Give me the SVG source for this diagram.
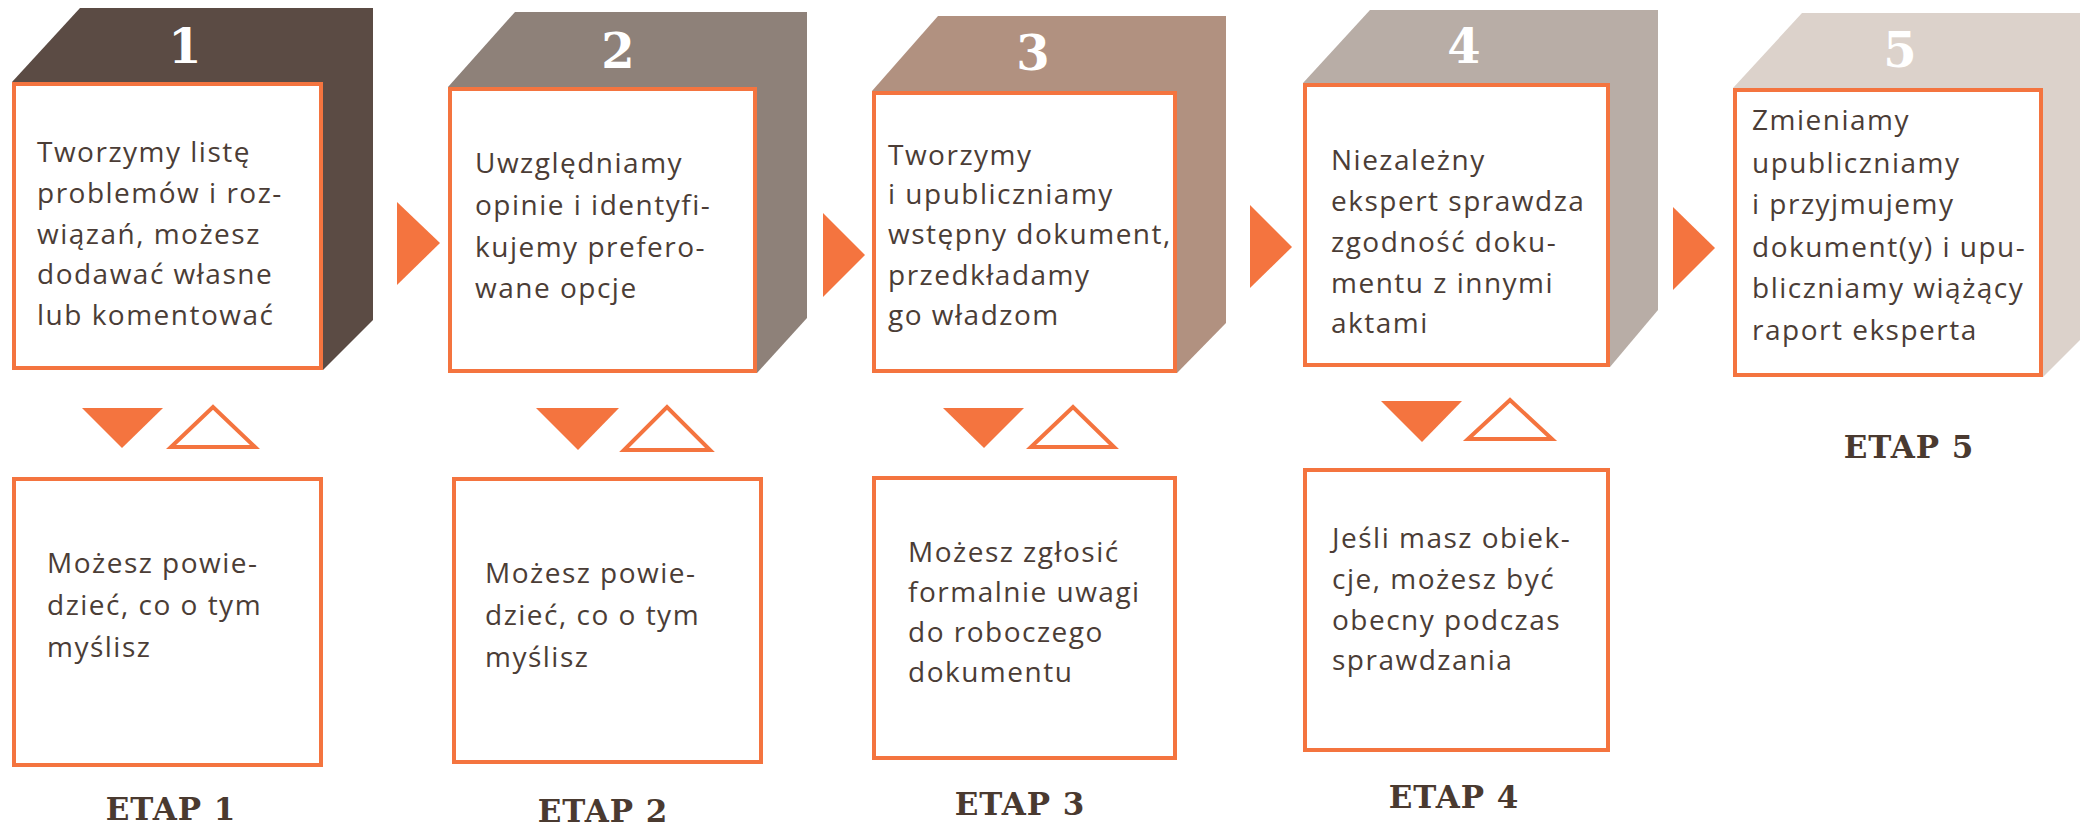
<svg xmlns="http://www.w3.org/2000/svg" width="2080" height="827" viewBox="0 0 2080 827">
<style>
.box{fill:#ffffff;stroke:#f4743f;stroke-width:4}
.t{font-family:"Open Sans","Noto Sans","Liberation Sans",sans-serif;font-size:28px;letter-spacing:1.5px;fill:#4b3d36}
.num{font-family:"DejaVu Serif","Liberation Serif",serif;font-weight:bold;font-size:48px;fill:#ffffff;text-anchor:middle}
.etap{font-family:"DejaVu Serif","Liberation Serif",serif;font-weight:bold;font-size:31px;letter-spacing:1px;fill:#4a3a30;text-anchor:middle}
.fill{fill:#f4743f}
.hollow{fill:none;stroke:#f4743f;stroke-width:4;stroke-linejoin:miter}
</style>
<rect width="2080" height="827" fill="#ffffff"/>

<g id="stage1">
<polygon points="12,82 80,8 373,8 373,320 323,370 12,370" fill="#5b4b44"/>
<rect class="box" x="14" y="84" width="307" height="284"/>
<text class="num" x="185" y="63">1</text>
<text class="t" x="37" y="162">Tworzymy listę</text>
<text class="t" x="37" y="203">problemów i roz-</text>
<text class="t" x="37" y="244">wiązań, możesz</text>
<text class="t" x="37" y="284">dodawać własne</text>
<text class="t" x="37" y="325">lub komentować</text>
</g>
<g id="stage1-feedback">
<rect class="box" x="14" y="479" width="307" height="286"/>
<text class="t" x="47" y="573">Możesz powie-</text>
<text class="t" x="47" y="615">dzieć, co o tym</text>
<text class="t" x="47" y="657">myślisz</text>
<text class="etap" x="171" y="820">ETAP 1</text>
</g>

<g id="stage2">
<polygon points="448,87 515,12 807,12 807,318 757,373 448,373" fill="#8e8179"/>
<rect class="box" x="450" y="89" width="305" height="282"/>
<text class="num" x="618" y="68">2</text>
<text class="t" x="475" y="173">Uwzględniamy</text>
<text class="t" x="475" y="215">opinie i identyfi-</text>
<text class="t" x="475" y="257">kujemy prefero-</text>
<text class="t" x="475" y="298">wane opcje</text>
</g>
<g id="stage2-feedback">
<rect class="box" x="454" y="479" width="307" height="283"/>
<text class="t" x="485" y="583">Możesz powie-</text>
<text class="t" x="485" y="625">dzieć, co o tym</text>
<text class="t" x="485" y="667">myślisz</text>
<text class="etap" x="603" y="822">ETAP 2</text>
</g>

<g id="stage3">
<polygon points="872,91 938,16 1226,16 1226,323 1177,373 872,373" fill="#b19180"/>
<rect class="box" x="874" y="93" width="301" height="278"/>
<text class="num" x="1033" y="70">3</text>
<text class="t" x="888" y="165">Tworzymy</text>
<text class="t" x="888" y="204">i upubliczniamy</text>
<text class="t" x="888" y="244">wstępny dokument,</text>
<text class="t" x="888" y="285">przedkładamy</text>
<text class="t" x="888" y="325">go władzom</text>
</g>
<g id="stage3-feedback">
<rect class="box" x="874" y="478" width="301" height="280"/>
<text class="t" x="908" y="562">Możesz zgłosić</text>
<text class="t" x="908" y="602">formalnie uwagi</text>
<text class="t" x="908" y="642">do roboczego</text>
<text class="t" x="908" y="682">dokumentu</text>
<text class="etap" x="1020" y="815">ETAP 3</text>
</g>

<g id="stage4">
<polygon points="1303,83 1370,10 1658,10 1658,310 1610,367 1303,367" fill="#b8ada6"/>
<rect class="box" x="1305" y="85" width="303" height="280"/>
<text class="num" x="1464" y="63">4</text>
<text class="t" x="1331" y="170">Niezależny</text>
<text class="t" x="1331" y="211">ekspert sprawdza</text>
<text class="t" x="1331" y="252">zgodność doku-</text>
<text class="t" x="1331" y="293">mentu z innymi</text>
<text class="t" x="1331" y="333">aktami</text>
</g>
<g id="stage4-feedback">
<rect class="box" x="1305" y="470" width="303" height="280"/>
<text class="t" x="1332" y="548">Jeśli masz obiek-</text>
<text class="t" x="1332" y="589">cje, możesz być</text>
<text class="t" x="1332" y="630">obecny podczas</text>
<text class="t" x="1332" y="670">sprawdzania</text>
<text class="etap" x="1454" y="808">ETAP 4</text>
</g>

<g id="stage5">
<polygon points="1733,88 1802,13 2093,13 2093,327 2043,377 1733,377" fill="#dcd2cb"/>
<rect class="box" x="1735" y="90" width="306" height="285"/>
<text class="num" x="1900" y="67">5</text>
<text class="t" x="1752" y="130">Zmieniamy</text>
<text class="t" x="1752" y="173">upubliczniamy</text>
<text class="t" x="1752" y="214">i przyjmujemy</text>
<text class="t" x="1752" y="257">dokument(y) i upu-</text>
<text class="t" x="1752" y="298">bliczniamy wiążący</text>
<text class="t" x="1752" y="340">raport eksperta</text>
<text class="etap" x="1909" y="458">ETAP 5</text>
</g>

<g id="connectors">
<polygon class="fill" points="397,202 397,285 440,243"/>
<polygon class="fill" points="823,213 823,297 865,255"/>
<polygon class="fill" points="1250,205 1250,288 1292,247"/>
<polygon class="fill" points="1673,207 1673,290 1715,248"/>

<polygon class="fill" points="82,408 163,408 122,448"/>
<polygon class="hollow" points="171,447 255,447 213,407"/>
<polygon class="fill" points="536,408 619,408 578,450"/>
<polygon class="hollow" points="624,450 710,450 667,407"/>
<polygon class="fill" points="943,408 1024,408 984,448"/>
<polygon class="hollow" points="1031,447 1114,447 1073,407"/>
<polygon class="fill" points="1381,401 1462,401 1422,442"/>
<polygon class="hollow" points="1468,439 1552,439 1510,400"/>
</g>
</svg>
